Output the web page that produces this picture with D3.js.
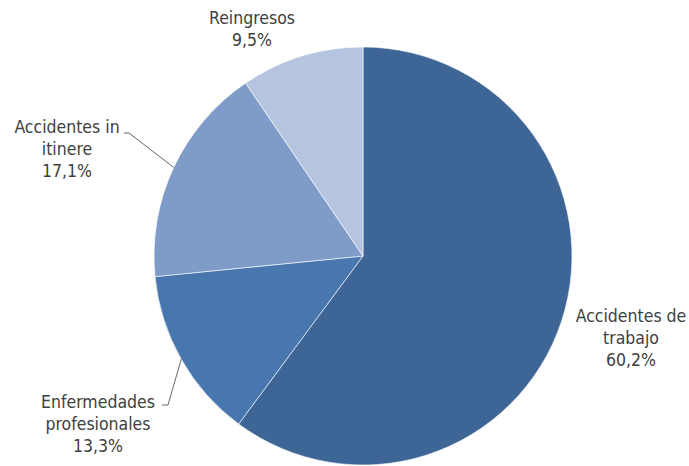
<!DOCTYPE html>
<html>
<head>
<meta charset="utf-8">
<script src="https://cdn.jsdelivr.net/npm/d3@7"></script>
<style>
  body { margin: 0; background: #fff; }
  svg text { font-family: "DejaVu Sans Condensed", "DejaVu Sans", sans-serif; fill: #404040; }
</style>
</head>
<body>
<svg id="svg" width="689" height="466"></svg>
<script>
const categorias = ["Accidentes de trabajo", "Enfermedades profesionales", "Accidentes in itinere", "Reingresos"];
const valores = [60.2, 13.3, 17.1, 9.5];
const etiquetas = [["Accidentes de", "trabajo", "60,2%"], ["Enfermedades", "profesionales", "13,3%"], ["Accidentes in", "itinere", "17,1%"], ["Reingresos", "9,5%"]];
const colores = ["#3d6596", "#4877b0", "#7f9cc8", "#b5c4df"];

window.onload = function () {
    let svg = d3.select('#svg');
    const cx = 363, cy = 256, r = 209;

    let pie = d3.pie().sort(null).value(d => d);
    let arcs = pie(valores);
    let arc = d3.arc().innerRadius(0).outerRadius(r);
    let borde = d3.arc().innerRadius(r).outerRadius(r);

    let g = svg.append("g").attr("transform", "translate(" + cx + "," + cy + ")");
    g.selectAll("path").data(arcs).enter().append("path")
        .attr("d", arc)
        .attr("fill", (d, i) => colores[i])
        .attr("stroke", "#ffffff")
        .attr("stroke-width", 0.6);

    // posiciones de las etiquetas (x centro, y primera linea)
    let pos = [[631, 322], [98, 408], [67, 133], [252, 24]];
    // lineas guia solo para itinere y enfermedades
    let guias = { 1: [[-201, 149], [-195, 149]], 2: [[-239, -123], [-234, -123]] };

    for (let i = 0; i < arcs.length; i++) {
        let t = svg.append("text").attr("text-anchor", "middle").style("font-size", "17.5px");
        etiquetas[i].forEach((l, k) => {
            t.append("tspan").attr("x", pos[i][0]).attr("y", pos[i][1] + k * 22).text(l);
        });
        if (guias[i]) {
            let p = borde.centroid(arcs[i]);
            let pts = guias[i].concat([p]);
            g.append("path")
                .attr("d", d3.line()(pts))
                .attr("fill", "none")
                .attr("stroke", "#404040")
                .attr("stroke-width", 0.8);
        }
    }
}
</script>
</body>
</html>
